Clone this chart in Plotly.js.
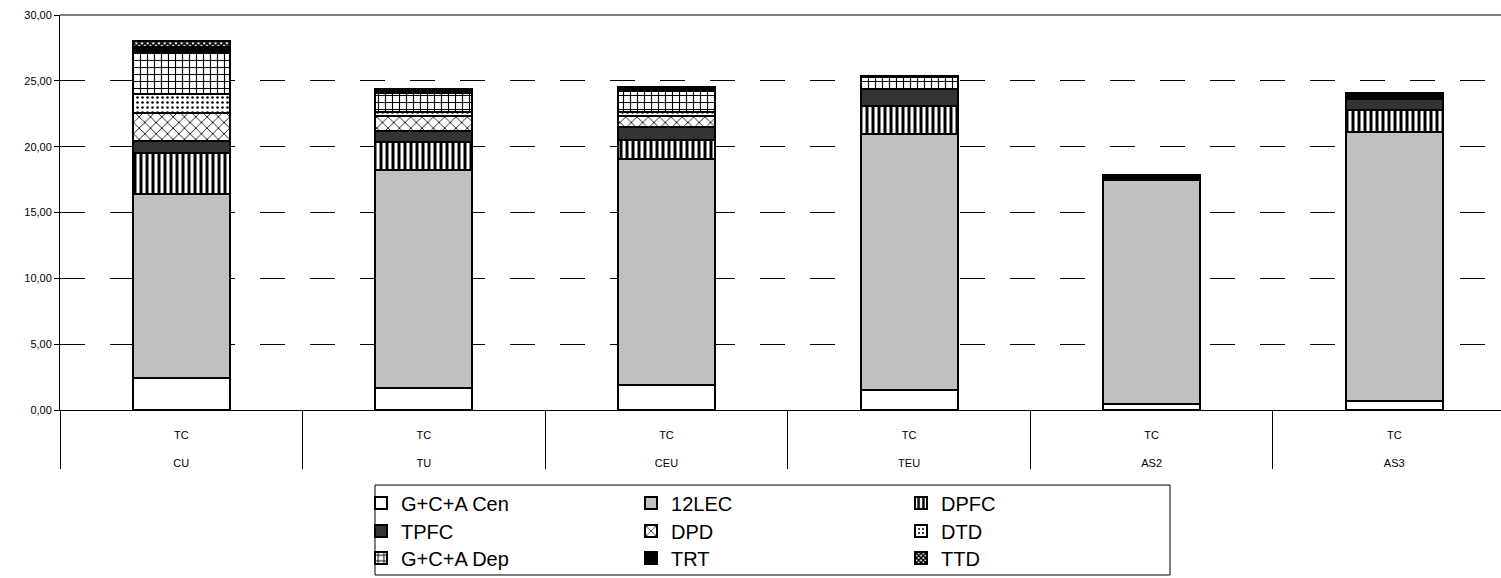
<!DOCTYPE html>
<html><head><meta charset="utf-8">
<script src="https://cdn.plot.ly/plotly-3.0.1.min.js"></script>
<style>body{margin:0;background:#fff}#chart{width:1501px;height:578px}</style>
</head><body><div id="chart"></div>
<script>
// Categories
const groups = ["CU", "TU", "CEU", "TEU", "AS2", "AS3"];
const subLabels = ["TC", "TC", "TC", "TC", "TC", "TC"];
// Series (segment heights)
const gcaCen = [2.45, 1.70, 1.90, 1.50, 0.45, 0.70];
const lec12  = [13.95, 16.50, 17.20, 19.50, 17.05, 20.40];
const dpfc   = [3.10, 2.15, 1.40, 2.10, 0, 1.70];
const tpfc   = [0.90, 0.85, 1.00, 1.30, 0, 0.80];
const dpd    = [2.15, 1.10, 0.80, 0, 0, 0];
const dtd    = [1.45, 0.30, 0.30, 0, 0, 0];
const gcaDep = [3.20, 1.50, 1.65, 0.90, 0, 0];
const trt    = [0.40, 0.20, 0.20, 0.10, 0.35, 0.50];
const ttd    = [0.40, 0.10, 0.05, 0, 0, 0];

const seriesNames = ["G+C+A Cen", "12LEC", "DPFC", "TPFC", "DPD", "DTD", "G+C+A Dep", "TRT", "TTD"];
const seriesValues = [gcaCen, lec12, dpfc, tpfc, dpd, dtd, gcaDep, trt, ttd];

const styles = [
  {color: '#ffffff'},
  {color: '#c0c0c0'},
  {color: '#ffffff', pattern: {shape: '|', fgcolor: '#000', bgcolor: '#fff', size: 6, solidity: 0.5}},
  {color: '#333333'},
  {color: '#ffffff', pattern: {shape: 'x', fgcolor: '#000', bgcolor: '#fff', size: 8, solidity: 0.2}},
  {color: '#ffffff', pattern: {shape: '.', fgcolor: '#000', bgcolor: '#fff', size: 5, solidity: 0.2}},
  {color: '#ffffff', pattern: {shape: '+', fgcolor: '#000', bgcolor: '#fff', size: 7, solidity: 0.3}},
  {color: '#000000'},
  {color: '#000000', pattern: {shape: 'x', fgcolor: '#000', bgcolor: '#fff', size: 4, solidity: 0.7}}
];

const legendIds = ['legend', 'legend2', 'legend3'];
// vertical spacing of the two label rows (blank lines only)
const innerLabels = subLabels.map(s => '<br>' + s);
const outerLabels = groups.map(g => '<br><br>' + g);

const traces = seriesNames.map((name, i) => {
  const marker = {color: styles[i].color, line: {color: '#000', width: 2}};
  if (styles[i].pattern) marker.pattern = styles[i].pattern;
  return {type: 'bar', name: name, x: [outerLabels, innerLabels], y: seriesValues[i], marker: marker,
          hoverinfo: 'none', legend: legendIds[Math.floor(i / 3)]};
});

function legendRow(y) {
  return {orientation: 'h', x: 0.2089, y: y, xanchor: 'left', yanchor: 'middle',
          borderwidth: 0, font: {size: 20}, entrywidth: 225, traceorder: 'normal',
          bgcolor: 'rgba(0,0,0,0)', itemclick: false};
}

const layout = {
  width: 1501, height: 578,
  margin: {l: 60, r: 0, t: 15, b: 168},
  separators: ',.',
  barmode: 'stack', bargap: 0.6,
  font: {family: 'Liberation Sans, Arial, sans-serif', color: '#000'},
  plot_bgcolor: '#fff', paper_bgcolor: '#fff',
  showlegend: true,
  xaxis: {
    type: 'multicategory', range: [-0.5, 5.44],
    showline: true, linecolor: '#000', linewidth: 1,
    tickfont: {size: 11}, showdividers: true, dividercolor: '#000', dividerwidth: 1,
    ticks: '', showgrid: false, zeroline: false
  },
  yaxis: {
    range: [0, 30], dtick: 5, tickformat: '.2f',
    showgrid: true, gridcolor: '#000', griddash: '25px,25px', gridwidth: 1,
    showline: true, linecolor: '#000', linewidth: 1,
    ticks: 'outside', ticklen: 5, tickcolor: '#000',
    tickfont: {size: 11}, zeroline: false
  },
  legend: legendRow(-0.2354),
  legend2: legendRow(-0.3063),
  legend3: legendRow(-0.3747),
  shapes: [
    {type: 'line', xref: 'paper', yref: 'paper', x0: 0, x1: 1, y0: 1, y1: 1, line: {color: '#808080', width: 2}},
    {type: 'rect', xref: 'paper', yref: 'paper', x0: 0.2186, x1: 0.7703, y0: -0.4177, y1: -0.19, line: {color: '#000', width: 1}, fillcolor: 'rgba(0,0,0,0)'}
  ]
};

Plotly.newPlot('chart', traces, layout, {displayModeBar: false, staticPlot: true});
</script>
</body></html>
